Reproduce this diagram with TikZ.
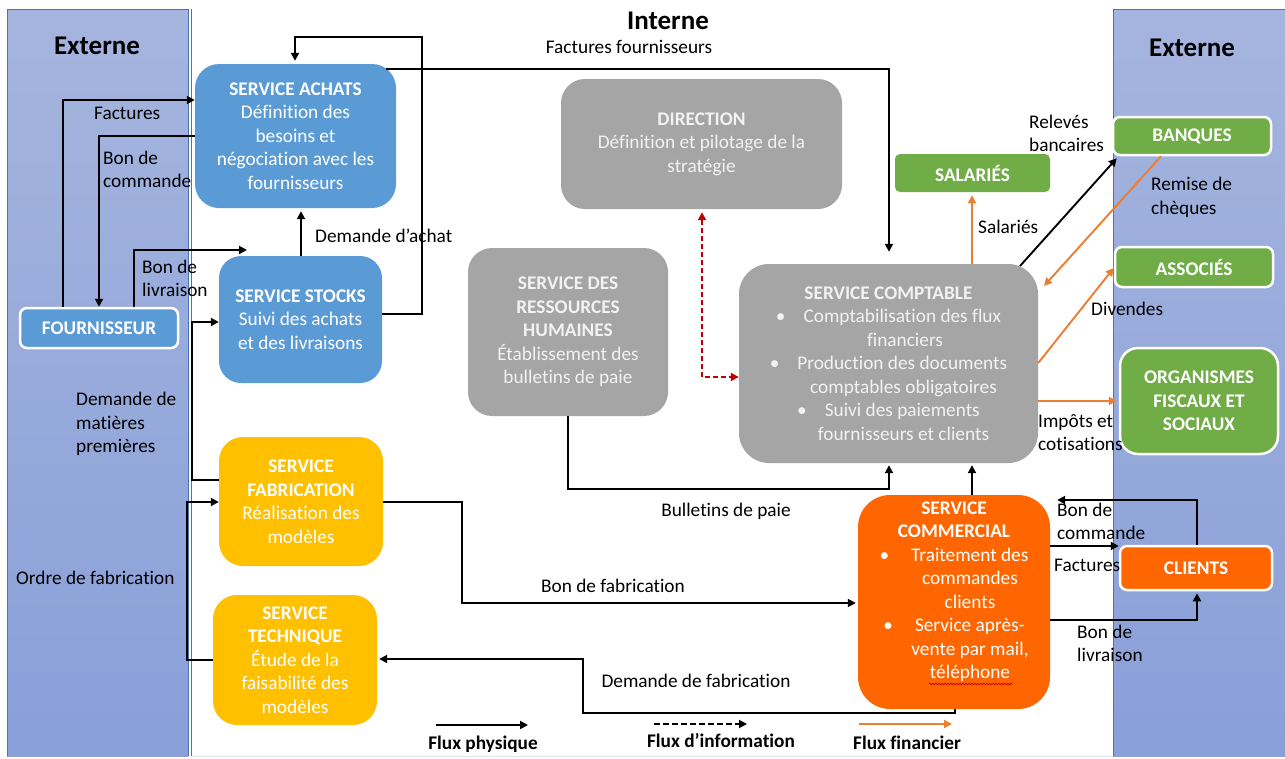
\documentclass[tikz,border=0pt]{standalone}
\usepackage{fontspec}
\setmainfont{Carlito}[Ligatures=NoCommon]
\usetikzlibrary{arrows.meta,decorations.pathmorphing}
\definecolor{bandtop}{RGB}{165,181,222}
\definecolor{bandbot}{RGB}{137,159,216}
\definecolor{bandline}{RGB}{68,114,196}
\definecolor{achblue}{RGB}{91,155,213}
\definecolor{fabyellow}{RGB}{255,192,0}
\definecolor{boxgray}{RGB}{165,165,165}
\definecolor{grtext}{RGB}{242,242,242}
\definecolor{boxgreen}{RGB}{112,173,71}
\definecolor{comorange}{RGB}{255,102,0}
\definecolor{finorange}{RGB}{237,125,49}
\definecolor{infored}{RGB}{192,0,0}
\begin{document}
\begin{tikzpicture}[x=1pt,y=-1pt,
  every node/.style={font=\fontsize{19.3pt}{23.5pt}\selectfont},
  box/.style={rounded corners=24pt, inner sep=0pt, align=center, text=white},
  tag/.style={rounded corners=7pt, inner sep=0pt, align=center, text=white,
     font=\fontsize{19.3pt}{23.5pt}\selectfont\bfseries, draw=white, line width=2.5pt},
  lbl/.style={align=left, inner sep=0pt, text=black},
  ttl/.style={inner sep=0pt, font=\fontsize{27pt}{32pt}\selectfont\bfseries},
  flow/.style={draw=black, line width=1.9pt, -{Triangle[length=8pt,width=8pt]}},
  fin/.style={draw=finorange, line width=1.9pt, -{Triangle[length=8pt,width=8pt]}},
  info/.style={draw=infored, line width=1.9pt, dash pattern=on 5pt off 3pt,
     {Triangle[length=8pt,width=8pt]}-{Triangle[length=8pt,width=8pt]}},
]
\useasboundingbox (0,0) rectangle (1285,758);
\fill[white] (0,0) rectangle (1285,758);
% bands
\shade[top color=bandtop, bottom color=bandbot] (7,9) rectangle (188,756);
\draw[bandline, line width=1pt] (7,756) -- (7,9) -- (188,9) -- (188,756);
\draw[bandline, line width=1pt] (191,9) -- (191,756);
\shade[top color=bandtop, bottom color=bandbot] (1113,9) rectangle (1285,756);
\draw[bandline, line width=1pt] (1113,756) -- (1113,9) -- (1285,9);
\draw[black!12, line width=1.5pt] (191,756.5) -- (1113,756.5);

% titles
\node[ttl] (extL) at (97,46) {Externe};
\node[ttl] (intT) at (668,21) {Interne};
\node[ttl] (extR) at (1192,48) {Externe};

% boxes
\node[box, fill=achblue, minimum width=201pt, minimum height=144pt] (achats) at (295.5,136)
  {\textbf{SERVICE ACHATS}\\Définition des\\besoins et\\négociation avec les\\fournisseurs};
\node[tag, fill=achblue, minimum width=158pt, minimum height=40pt] (fourn) at (99,328) {FOURNISSEUR};
\node[box, rounded corners=22pt, fill=achblue, minimum width=163pt, minimum height=127pt] (stocks) at (300.5,319.5)
  {\textbf{SERVICE STOCKS}\\Suivi des achats\\et des livraisons};
\node[box, fill=fabyellow, minimum width=164pt, minimum height=129pt] (fab) at (301,501.5)
  {\textbf{SERVICE}\\\textbf{FABRICATION}\\Réalisation des\\modèles};
\node[box, fill=fabyellow, minimum width=164pt, minimum height=130pt] (tech) at (295,660)
  {\textbf{SERVICE}\\\textbf{TECHNIQUE}\\Étude de la\\faisabilité des\\modèles};
\node[box, fill=boxgray, text=grtext, minimum width=281pt, minimum height=130pt] (dir) at (701.5,144)
  {\textbf{DIRECTION}\\Définition et pilotage de la\\stratégie};
\node[box, fill=boxgray, text=grtext, minimum width=200pt, minimum height=168pt] (srh) at (568,332)
  {\textbf{SERVICE DES}\\\textbf{RESSOURCES}\\\textbf{HUMAINES}\\Établissement des\\bulletins de paie};
\node[box, rounded corners=30pt, fill=boxgray, text=grtext, minimum width=299pt, minimum height=199pt] (compta) at (888.5,363.5)
  {\textbf{SERVICE COMPTABLE}\\
   \textbullet\hspace{18pt}Comptabilisation des flux\\
   \hspace{33pt}financiers\\
   \textbullet\hspace{18pt}Production des documents\\
   \hspace{30pt}comptables obligatoires\\
   \textbullet\hspace{18pt}Suivi des paiements\\
   \hspace{30pt}fournisseurs et clients};
\node[tag, draw=none, rounded corners=5pt, fill=boxgreen, minimum width=155pt, minimum height=38pt] (sal) at (972.5,173) {SALARIÉS};
\node[tag, fill=boxgreen, minimum width=158pt, minimum height=38pt] (banques) at (1192,136) {BANQUES};
\node[tag, fill=boxgreen, minimum width=158pt, minimum height=40pt] (assoc) at (1194,267) {ASSOCIÉS};
\node[tag, rounded corners=18pt, fill=boxgreen, minimum width=158pt, minimum height=106pt] (org) at (1199,401)
  {ORGANISMES\\FISCAUX ET\\SOCIAUX};
\node[box, rounded corners=32pt, fill=comorange, minimum width=192pt, minimum height=214pt] (comm) at (954,602) {};
\node[inner sep=0pt, align=center, text=white] (commtxt) at (954,591.5)
  {\textbf{SERVICE}\\\textbf{COMMERCIAL}\\
   \textbullet\hspace{22pt}Traitement des\\
   \hspace{32pt}commandes\\
   \hspace{32pt}clients\\
   \textbullet\hspace{22pt}Service après-\\
   \hspace{32pt}vente par mail,\\
   \hspace{32pt}téléphone};
\node[tag, fill=comorange, minimum width=152pt, minimum height=44pt] (clients) at (1196,568) {CLIENTS};
% spell-check underline
\coordinate (wav1) at (929,684); \coordinate (wav2) at (1013,684);
\draw[red!80!black, line width=0.7pt, decorate, decoration={snake, amplitude=0.9pt, segment length=3pt}] (wav1) -- (wav2);

% free ends
\coordinate (blEnd) at (247,250);
\coordinate (chqEnd) at (1044,286);

% connectors (physical)
\draw[flow] (fourn.north -| 63,0) |- (achats.west |- 0,100);
\draw[flow] (achats.west |- 0,136) -| (fourn.north -| 99,0);
\draw[flow] (fourn.north -| 134,0) |- (blEnd);
\draw[flow] (stocks.north -| 301,0) -- ([yshift=-3pt]achats.south -| 301,0);
\draw[flow] (stocks.east |- 0,314) -| (422,37) -| ([yshift=3pt]achats.north -| 295,0);
\draw[flow, shorten >=12pt] (386,69) -| (compta.north -| 889,0);
\draw[flow] (fab.west |- 0,480) -| (192,322) -- (stocks.west |- 0,322);
\draw[flow] (tech.west |- 0,660) -| (187,502) -- (fab.west |- 0,502);
\draw[flow] (fab.east |- 0,502) -| (462,603) -- ([xshift=-2pt]comm.west |- 0,603);
\draw[flow] (comm.south -| 955,0) |- (583,713) |- ([xshift=2pt]tech.east |- 0,659);
\draw[flow] (srh.south -| 568,0) |- (889,489) -- ([yshift=-2pt]compta.south -| 889,0);
\draw[flow] (comm.north -| 972,0) -- ([yshift=-2pt]compta.south -| 972,0);
\draw[flow, shorten >=7pt] (clients.north -| 1197,0) |- (comm.east |- 0,500);
\draw[flow] (comm.east |- 0,546) -- (clients.west |- 0,546);
\draw[flow] (comm.east |- 0,620) -| ([yshift=-2pt]clients.south -| 1197,0);
\draw[flow] (1020,266) -- ([shift={(5pt,-2pt)}]banques.south west);

% financial
\draw[fin] (banques.south -| 1161,0) -- (chqEnd);
\draw[fin] (compta.north -| 972,0) -- ([yshift=-2pt]sal.south -| 972,0);
\draw[fin] (compta.east |- 0,363) -- (assoc.west |- 0,268);
\draw[fin] (compta.east |- 0,401) -- ([xshift=-2pt]org.west |- 0,401);

% information
\draw[info] ([yshift=-3pt]dir.south -| 702,0) |- (compta.west |- 0,377);

% labels
\node[lbl, anchor=west] (l1) at (94,113) {Factures};
\node[lbl, anchor=west] (l2) at (103,169.5) {Bon de\\commande};
\node[lbl, anchor=west] (l3) at (142,278.5) {Bon de\\livraison};
\node[lbl, anchor=west] (l4) at (315,236) {Demande d’achat};
\node[lbl] (l5) at (629,47) {Factures fournisseurs};
\node[lbl, anchor=west] (l6) at (76,424) {Demande de\\matières\\premières};
\node[lbl, anchor=west] (l7) at (16,578) {Ordre de fabrication};
\node[lbl] (l8) at (613,586) {Bon de fabrication};
\node[lbl] (l9) at (696,681) {Demande de fabrication};
\node[lbl] (l10) at (726,511) {Bulletins de paie};
\node[lbl, anchor=west] (l11) at (1029,133.5) {Relevés\\bancaires};
\node[lbl, anchor=west] (l12) at (1151,197.5) {Remise de\\chèques};
\node[lbl, anchor=west] (l13) at (978,227) {Salariés};
\node[lbl, anchor=west] (l14) at (1091,309) {Divendes};
\node[lbl, anchor=west] (l15) at (1038,432.5) {Impôts et\\cotisations};
\node[lbl, anchor=west] (l16) at (1057,521.5) {Bon de\\commande};
\node[lbl, anchor=west] (l17) at (1054,565) {Factures};
\node[lbl, anchor=west] (l18) at (1077,643.5) {Bon de\\livraison};

% legend
\coordinate (lgA1) at (436,725); \coordinate (lgA2) at (528,725);
\coordinate (lgB1) at (654,724); \coordinate (lgB2) at (747,724);
\coordinate (lgC1) at (859,724); \coordinate (lgC2) at (952,724);
\draw[flow] (lgA1) -- (lgA2);
\draw[flow, dash pattern=on 6pt off 3pt] (lgB1) -- (lgB2);
\draw[fin] (lgC1) -- (lgC2);
\node[lbl, font=\fontsize{19.3pt}{23.5pt}\selectfont\bfseries] (lg1) at (483,744) {Flux physique};
\node[lbl, font=\fontsize{19.3pt}{23.5pt}\selectfont\bfseries] (lg2) at (721,741) {Flux d’information};
\node[lbl, font=\fontsize{19.3pt}{23.5pt}\selectfont\bfseries] (lg3) at (907,743) {Flux financier};
\end{tikzpicture}
\end{document}
